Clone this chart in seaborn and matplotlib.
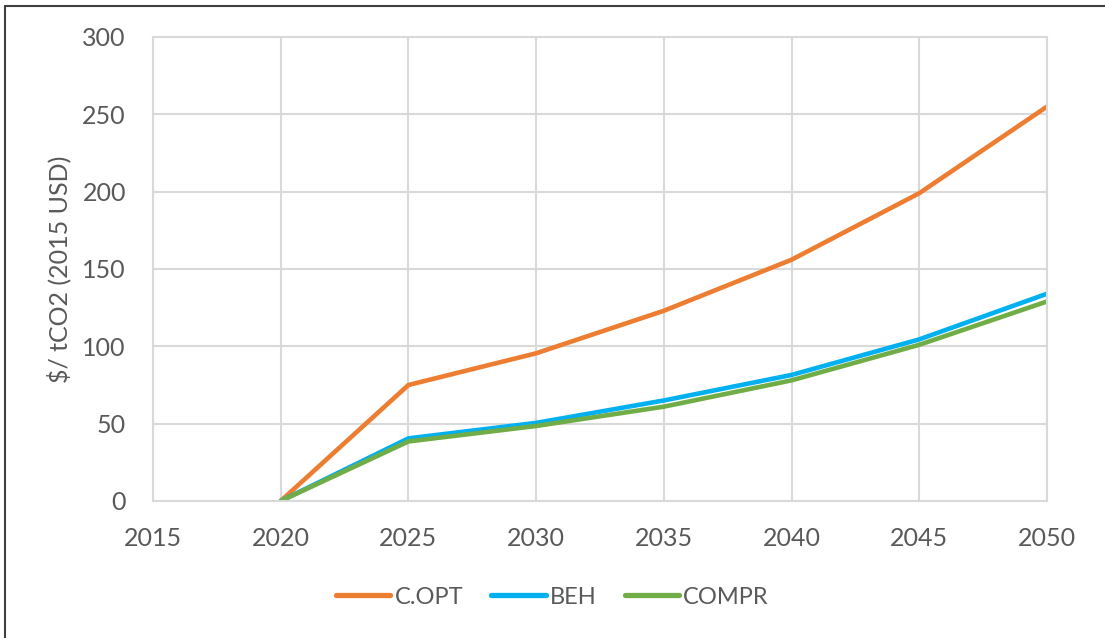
import matplotlib
matplotlib.use("Agg")
import matplotlib.pyplot as plt
import seaborn as sns
import pandas as pd
from matplotlib.lines import Line2D

years = [2020, 2025, 2030, 2035, 2040, 2045, 2050]
c_opt = [0, 75, 95.5, 123, 156, 199, 255]
beh = [0, 40.5, 50.5, 65, 81.5, 104.5, 134]
compr = [0, 38.5, 48.5, 61, 78, 101, 129]
series_names = ["C.OPT", "BEH", "COMPR"]
x_ticks = [2015, 2020, 2025, 2030, 2035, 2040, 2045, 2050]
y_ticks = [0, 50, 100, 150, 200, 250, 300]

df = pd.DataFrame({
    "year": years * 3,
    "value": c_opt + beh + compr,
    "series": [s for s in series_names for _ in years],
})

sns.set_theme(style="white")
plt.rcParams["font.family"] = ["Lato", "DejaVu Sans"]

colors = {"C.OPT": "#ED7D31", "BEH": "#00B0F0", "COMPR": "#70AD47"}

fig = plt.figure(figsize=(11.05, 6.38), dpi=100)
ax = fig.add_axes([153/1105, 1-501/638, (1047-153)/1105, (501-37)/638])

sns.lineplot(data=df, x="year", y="value", hue="series", palette=colors,
             linewidth=3.3, ax=ax, legend=False, sort=False,
             hue_order=series_names)
for ln in ax.lines:
    ln.set_solid_capstyle("round")
    ln.set_solid_joinstyle("round")

ax.set_xlim(2015, 2050)
ax.set_ylim(0, 300)
ax.set_xticks(x_ticks)
ax.set_yticks(y_ticks)
ax.grid(True, color="#d9d9d9", linewidth=1.5)
ax.set_axisbelow(True)
for sp in ax.spines.values():
    sp.set_color("#d9d9d9")
    sp.set_linewidth(1.5)
ax.tick_params(axis="both", length=0, labelsize=18, labelcolor="#595959")
ax.tick_params(axis="y", pad=19.5)
ax.tick_params(axis="x", pad=19)
ax.set_xlabel("")
ax.set_ylabel("$/ tCO2 (2015 USD)", fontsize=18, color="#595959", labelpad=8)

handles = [Line2D([0], [0], color=colors[s], linewidth=3.8, solid_capstyle="round") for s in series_names]
fig.legend(handles, series_names, loc="center", bbox_to_anchor=(0.5, 1-597/638),
           ncol=3, frameon=False, fontsize=17, labelcolor="#595959",
           handlelength=2.3, handletextpad=0.17, columnspacing=1.2)

# figure border (left and top)
fig.add_artist(Line2D([5/1105, 5/1105], [0, 1-6/638], transform=fig.transFigure, color="#404040", linewidth=1.5))
fig.add_artist(Line2D([5/1105, 1], [1-6/638, 1-6/638], transform=fig.transFigure, color="#404040", linewidth=1.5))

fig.savefig("out.png", dpi=100)
